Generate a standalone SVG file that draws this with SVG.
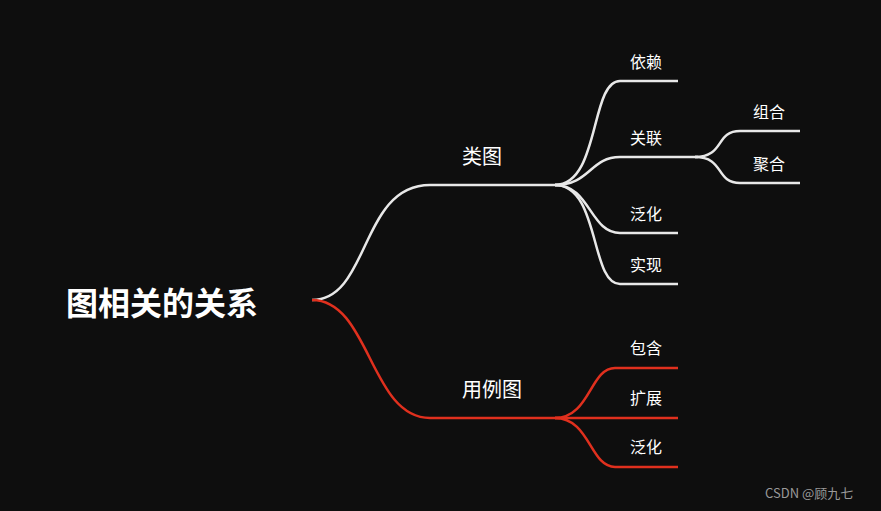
<svg xmlns="http://www.w3.org/2000/svg" width="881" height="511" viewBox="0 0 881 511">
<style>
.w{fill:none;stroke:#e8e8e8;stroke-width:2.5}
.r{fill:none;stroke:#e0301e;stroke-width:2.5}
text{fill:#fff;font-family:"Noto Sans CJK SC",sans-serif}
.l{font-size:16px}
.m{font-size:20px}
</style>
<rect width="881" height="511" fill="#0e0e0e"/>
<g id="connectors">
<path class="w" d="M312,300 C370,300 360,185 430,185 L560,185"/>
<path class="r" d="M312,300 C370,300 370,418 430,418 L560,418"/>
<path class="w" d="M555,185 C600,185 590,81 620,81 L678,81"/>
<path class="w" d="M555,185 C590,185 590,157 620,157 L698,157"/>
<path class="w" d="M555,185 C590,185 590,233 620,233 L678,233"/>
<path class="w" d="M555,185 C600,185 590,284 620,284 L678,284"/>
<path class="w" d="M695,157 C725,157 715,131 740,131 L800,131"/>
<path class="w" d="M695,157 C725,157 715,183 740,183 L800,183"/>
<path class="r" d="M555,418 C590,418 590,368 615,368 L678,368"/>
<path class="r" d="M555,418 L678,418"/>
<path class="r" d="M555,418 C590,418 590,467 615,467 L678,467"/>
</g>
<g id="root"><text x="66" y="315" font-size="32" font-weight="bold">图相关的关系</text></g>
<g id="leitu"><text class="m" x="462" y="164">类图</text></g>
<g id="yongli"><text class="m" x="462" y="397">用例图</text></g>
<g id="yilai"><text class="l" x="630" y="68">依赖</text></g>
<g id="guanlian"><text class="l" x="630" y="144">关联</text></g>
<g id="fanhua1"><text class="l" x="630" y="220">泛化</text></g>
<g id="shixian"><text class="l" x="630" y="271">实现</text></g>
<g id="zuhe"><text class="l" x="753" y="118">组合</text></g>
<g id="juhe"><text class="l" x="753" y="170">聚合</text></g>
<g id="baohan"><text class="l" x="630" y="354">包含</text></g>
<g id="kuozhan"><text class="l" x="630" y="404">扩展</text></g>
<g id="fanhua2"><text class="l" x="630" y="453">泛化</text></g>
<text x="765" y="498" font-size="13" style="fill:#9a9a9a">CSDN @顾九七</text>
</svg>
